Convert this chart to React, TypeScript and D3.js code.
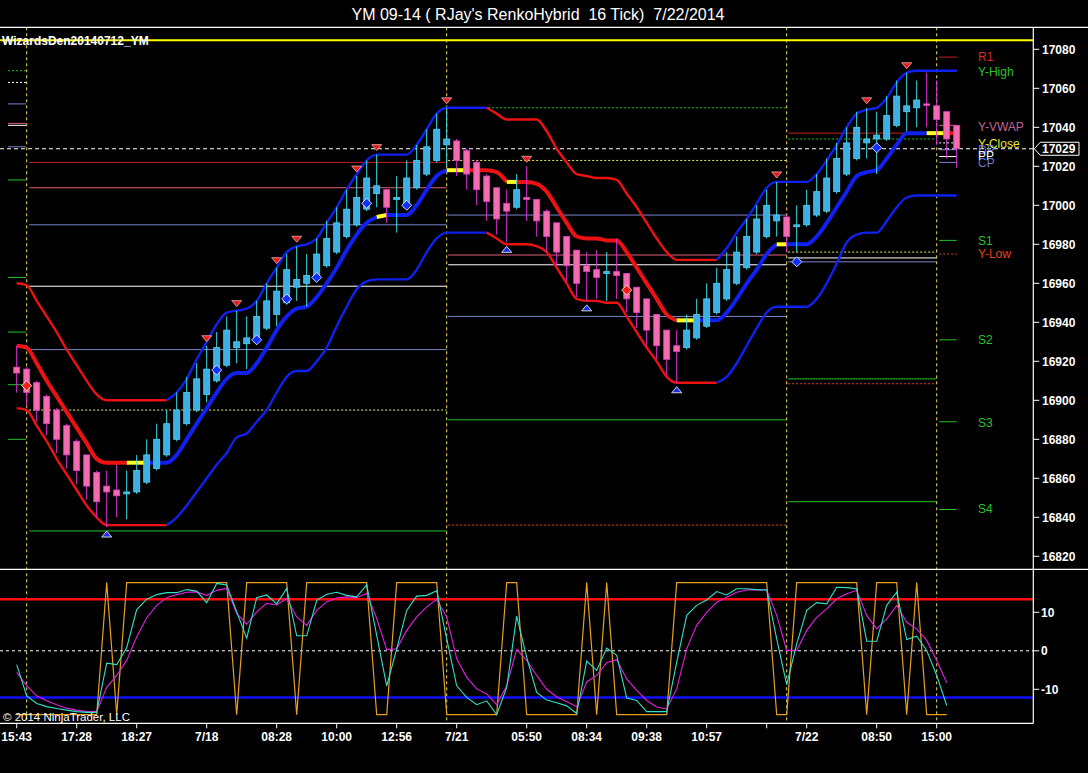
import * as d3 from "d3";

// ── Renko bars (index 0 = 15:43 on 7/17) ──────────────────────
const OPEN = [
  16917, 16916, 16909, 16902, 16895, 16887, 16879, 16872, 16863, 16856,
  16854, 16852, 16853, 16858, 16865, 16872, 16880, 16888, 16895, 16903,
  16910, 16918, 16927, 16929, 16931, 16937, 16944, 16950, 16958, 16960,
  16963, 16969, 16976, 16984, 16990, 16998, 17006, 17008, 17003, 16999,
  17009, 17016, 17023, 17031, 17033, 17028, 17022, 17015, 17009, 17001,
  16999, 17004, 17003, 16997, 16991, 16984, 16977, 16969, 16967, 16965,
  16966, 16965, 16958, 16952, 16944, 16936, 16928, 16927, 16932, 16938,
  16945, 16952, 16960, 16968, 16976, 16984, 16992, 16994, 16989, 16990,
  16995, 16997, 17007, 17016, 17024, 17032, 17034, 17034, 17041, 17048,
  17050, 17052, 17051, 17048, 17041,
];
const HIGH = [
  16928, 16917, 16910, 16903, 16896, 16888, 16880, 16872, 16864, 16864,
  16867, 16864, 16872, 16880, 16888, 16895, 16904, 16912, 16919, 16928,
  16935, 16943, 16946, 16943, 16951, 16960, 16968, 16975, 16979, 16975,
  16983, 16992, 16999, 17008, 17015, 17023, 17026, 17008, 17015, 17023,
  17031, 17039, 17047, 17050, 17034, 17029, 17023, 17016, 17009, 17008,
  17016, 17020, 17003, 16998, 16991, 16984, 16977, 16976, 16977, 16976,
  16983, 16965, 16958, 16952, 16944, 16936, 16936, 16944, 16952, 16960,
  16968, 16976, 16984, 16993, 17000, 17008, 17012, 16995, 17000, 17008,
  17016, 17024, 17032, 17040, 17048, 17050, 17048, 17056, 17064, 17068,
  17064, 17068, 17064, 17048, 17041,
];
const LOW = [
  16904, 16897, 16889, 16882, 16873, 16865, 16857, 16849, 16840, 16835,
  16840, 16839, 16852, 16857, 16864, 16871, 16879, 16887, 16894, 16899,
  16909, 16917, 16919, 16916, 16930, 16936, 16938, 16949, 16951, 16948,
  16962, 16968, 16975, 16983, 16989, 16997, 16999, 16991, 16986, 16998,
  17008, 17015, 17022, 17020, 17015, 17008, 17000, 16992, 16985, 16981,
  16998, 16992, 16984, 16976, 16969, 16961, 16953, 16951, 16952, 16951,
  16952, 16945, 16937, 16928, 16921, 16913, 16909, 16926, 16931, 16937,
  16944, 16951, 16959, 16967, 16975, 16983, 16984, 16976, 16976, 16989,
  16994, 16996, 17006, 17015, 17023, 17024, 17016, 17033, 17040, 17038,
  17040, 17040, 17031, 17024, 17019,
];
const CLOSE = [
  16914, 16904, 16895, 16888, 16880, 16872, 16864, 16856, 16848, 16853,
  16851, 16853, 16864, 16872, 16880, 16888, 16895, 16904, 16911, 16916,
  16927, 16936, 16930, 16932, 16943, 16951, 16956, 16967, 16962, 16964,
  16975, 16983, 16991, 16998, 17004, 17014, 17010, 16999, 17004, 17014,
  17023, 17030, 17039, 17034, 17023, 17016, 17008, 17002, 16993, 16997,
  17008, 17003, 16992, 16984, 16976, 16969, 16960, 16966, 16963, 16966,
  16964, 16952, 16945, 16936, 16928, 16921, 16925, 16936, 16944, 16952,
  16960, 16967, 16976, 16984, 16993, 17000, 16995, 16984, 16990, 17000,
  17007, 17014, 17024, 17032, 17040, 17034, 17036, 17046, 17056, 17051,
  17054, 17051.5, 17044, 17034, 17029,
];

// ── Trend band: upper / middle / lower ────────────────────────
const BAND_UPPER = [
  16960, 16959, 16951, 16943, 16935, 16926, 16918, 16910, 16903, 16900,
  16900, 16900, 16900, 16900, 16900, 16900, 16904, 16911, 16921, 16930,
  16939, 16945, 16946, 16947, 16951, 16960, 16968, 16976, 16979, 16980,
  16983, 16991, 16999, 17008, 17016, 17023, 17026, 17026, 17026, 17026,
  17031, 17039, 17047, 17050, 17050, 17050, 17050, 17050, 17047, 17044,
  17044, 17044, 17044, 17038, 17029, 17022, 17016, 17015, 17014, 17014,
  17013, 17006, 16999, 16991, 16983, 16976, 16972, 16972, 16972, 16972,
  16972, 16978, 16986, 16993, 17001, 17009, 17012, 17012, 17012, 17012,
  17016, 17023, 17031, 17040, 17047, 17049, 17050, 17055, 17063, 17068,
  17069, 17069, 17069, 17069, 17069,
];
const BAND_MID = [
  16928, 16927, 16919, 16910, 16902, 16894, 16886, 16878, 16870, 16868,
  16868, 16868, 16868, 16868, 16868, 16868, 16872, 16880, 16888, 16896,
  16904, 16911, 16914, 16914, 16919, 16927, 16936, 16943, 16947, 16948,
  16953, 16960, 16968, 16977, 16985, 16991, 16994, 16995, 16995, 16995,
  17000, 17008, 17015, 17018, 17018, 17018, 17018, 17018, 17017, 17012,
  17012, 17012, 17011, 17007, 16999, 16991, 16984, 16983, 16983, 16982,
  16982, 16976, 16968, 16960, 16952, 16944, 16941, 16941, 16941, 16941,
  16941, 16945, 16952, 16960, 16967, 16975, 16980, 16980, 16980, 16980,
  16984, 16991, 16999, 17007, 17015, 17017, 17018, 17024, 17031, 17037,
  17037, 17037, 17037, 17037, 17037,
];
const BAND_LOWER = [
  16896, 16895, 16887, 16879, 16870, 16862, 16854, 16846, 16840, 16836,
  16836, 16836, 16836, 16836, 16836, 16836, 16840, 16846, 16853, 16860,
  16867, 16873, 16881, 16883, 16889, 16895, 16904, 16912, 16915, 16915,
  16920, 16927, 16938, 16948, 16957, 16961, 16962, 16962, 16962, 16962,
  16967, 16976, 16983, 16986, 16986, 16986, 16986, 16986, 16983, 16980,
  16980, 16980, 16979, 16976, 16968, 16960, 16952, 16951, 16951, 16950,
  16950, 16943, 16935, 16927, 16920, 16912, 16909, 16909, 16909, 16909,
  16909, 16912, 16919, 16928, 16937, 16945, 16948, 16948, 16948, 16948,
  16952, 16960, 16970, 16981, 16985, 16986, 16986, 16992, 16999, 17004,
  17005, 17005, 17005, 17005, 17005,
];
// [fromBar, toBar, state]
const THIN_RUNS: [number, number, string][] = [
  [0, 15, "down"], [15, 47, "up"], [47, 70, "down"], [70, 94, "up"],
];
const THICK_RUNS: [number, number, string][] = [
  [0, 11, "down"], [11, 13, "flip"], [13, 36, "up"], [36, 37, "flip"],
  [37, 43, "up"], [43, 45, "flip"], [45, 49, "down"], [49, 50, "flip"],
  [50, 66, "down"], [66, 68, "flip"], [68, 76, "up"], [76, 77, "flip"],
  [77, 91, "up"], [91, 93, "flip"], [93, 94, "down"],
];

// ── Signal markers ────────────────────────────────────────────
const SELL_TRIANGLE_BARS = [19, 22, 26, 28, 34, 36, 43, 51, 76, 85, 89];
const BUY_TRIANGLE_BARS = [9, 49, 57, 66];
const BLUE_DIAMOND_BARS = [20, 24, 27, 30, 35, 39, 78, 86];
const BLUE_DIAMOND_PRICES = [16915.5, 16931, 16952, 16963, 17001, 17000, 16971, 17029.5];
const RED_DIAMOND_BARS = [1, 61];
const RED_DIAMOND_PRICES = [16907.5, 16956.5];

// ── Lower panel oscillator (one value per closed bar) ─────────
const SIGNAL = [
  -16.6, -16.6, -16.6, -16.6, -16.6, -16.6, -16.6, -16.6, -16.6, 17.7,
  -16.6, 17.7, 17.7, 17.7, 17.7, 17.7, 17.7, 17.7, 17.7, 17.7,
  17.7, 17.7, -16.6, 17.7, 17.7, 17.7, 17.7, 17.7, -16.6, 17.7,
  17.7, 17.7, 17.7, 17.7, 17.7, 17.7, -16.6, -16.6, 17.7, 17.7,
  17.7, 17.7, 17.7, -16.6, -16.6, -16.6, -16.6, -16.6, -16.6, 17.7,
  17.7, -16.6, -16.6, -16.6, -16.6, -16.6, -16.6, 17.7, -16.6, 17.7,
  -16.6, -16.6, -16.6, -16.6, -16.6, -16.6, 17.7, 17.7, 17.7, 17.7,
  17.7, 17.7, 17.7, 17.7, 17.7, 17.7, -16.6, -16.6, 17.7, 17.7,
  17.7, 17.7, 17.7, 17.7, 17.7, -16.6, 17.7, 17.7, 17.7, -16.6,
  17.7, -16.6, -16.6, -16.6,
];
const FAST = [
  -3.6, -11.7, -13.7, -14.5, -15.0, -15.4, -15.8, -16.0, -16.0, -3.2,
  -3.6, 0.8, 10.7, 13.4, 14.6, 15.1, 15.1, 15.9, 15.5, 12.5,
  17.5, 17.1, 10.1, 3.3, 13.8, 14.5, 12.2, 16.2, 3.9, 3.9,
  13.1, 14.7, 15.2, 14.4, 14.0, 17.1, 4.0, -9.1, 0.5, 10.5,
  14.2, 14.4, 15.6, 3.1, -9.1, -12.1, -14.0, -13.0, -16.6, -9.5,
  9.0, -1.7, -10.8, -12.8, -13.5, -14.3, -16.3, -2.7, -5.1, 0.7,
  -1.2, -12.3, -12.9, -15.8, -15.8, -15.8, -3.0, 9.2, 11.8, 13.2,
  15.4, 14.5, 16.1, 16.1, 15.9, 15.8, 3.1, -8.8, 1.8, 10.5,
  12.5, 12.2, 16.5, 16.4, 16.1, 2.5, 2.5, 11.8, 15.2, 2.9,
  3.8, 0.1, -6.4, -14.2,
];
const SLOW = [
  -5.6, -9.1, -11.7, -13.0, -14.0, -14.9, -15.4, -15.8, -15.8, -9.5,
  -6.4, -2.5, 3.6, 8.6, 11.8, 13.8, 14.6, 15.2, 15.3, 14.4,
  15.7, 16.2, 9.7, 6.9, 10.1, 12.3, 11.9, 13.6, 8.8, 6.6,
  10.5, 12.7, 13.7, 14.0, 13.8, 14.9, 8.4, 0.3, 0.5, 5.3,
  8.8, 11.4, 13.3, 8.8, -2.1, -6.9, -9.9, -11.2, -14.0, -9.1,
  0.3, -2.5, -6.4, -10.0, -12.0, -13.2, -14.5, -8.1, -6.4, -3.1,
  -2.3, -7.3, -10.3, -12.9, -14.6, -15.1, -9.9, 0.5, 6.6, 10.0,
  12.6, 13.9, 15.2, 15.8, 15.9, 15.8, 9.2, 0.1, 0.1, 5.3,
  8.7, 10.9, 13.5, 14.8, 15.7, 9.2, 5.7, 8.3, 11.8, 7.4,
  5.7, 2.7, -2.5, -8.3,
];
const OVERBOUGHT = 13.4;
const OVERSOLD = -12.1;

// ── Sessions and pivot levels ─────────────────────────────────
const SESSION_BREAK_BARS = [1, 43, 77, 92];
// bar span of each block of level lines
const LEVEL_SPANS: [number, number][] = [[-0.87, 0.93], [1.25, 43], [43.15, 77], [77.15, 92], [92.25, 94]];
const LEVELS_0717: [number, string][] = [
  [17069, "high"], [17063, "wdot"], [17052, "bg"], [17042, "vwap"], [17041, "pp"],
  [17030, "bg"], [17013, "s"], [16963, "s"], [16935, "s"], [16908, "s"], [16880, "s"],
];
const LEVELS_0718: [number, string][] = [
  [17022, "r1"], [17009, "vwap"], [16990, "bg"], [16958.5, "pp"], [16926, "bg"],
  [16895, "close"], [16833, "s"],
];
const LEVELS_0721: [number, string][] = [
  [17050, "high"], [17023, "close"], [16995, "bg"], [16974.5, "vwap"], [16969.5, "pp"],
  [16943, "bg"], [16890, "s"], [16836, "low"],
];
const LEVELS_0722: [number, string][] = [
  [17037, "r1"], [17034, "high"], [16976, "close"], [16973, "pp"], [16971, "bg"],
  [16911, "s"], [16908.5, "low"], [16848, "s"],
];
const LEVELS_0723: [number, string][] = [
  [17076, "r1"], [17069, "high"], [17041, "vwap"], [17032, "wdot"], [17028.5, "bg"],
  [17025, "pp"], [17022, "bg"], [16982, "s"], [16975, "low"], [16931, "s"],
  [16889, "s"], [16844, "s"],
];
const LEVEL_NAMES = ["R1", "Y-High", "Y-VWAP", "Y-Close", "DP", "PP", "CP", "S1", "Y-Low", "S2", "S3", "S4"];
const LEVEL_NAME_PRICES = [17076, 17068.5, 17040.3, 17031.4, 17028.4, 17025.3, 17021.9, 16981.8, 16975, 16931, 16888.4, 16844.3];
const LEVEL_NAME_KINDS = ["r1", "s", "vwap", "close", "bg", "pp", "bg", "s", "low", "s", "s", "s"];

const SESSION_HIGH_LINE = 17084.6;
const LAST_PRICE = 17029;

// ── Axes ──────────────────────────────────────────────────────
const PRICE_TICKS = [17080, 17060, 17040, 17020, 17000, 16980, 16960, 16940, 16920, 16900, 16880, 16860, 16840, 16820];
const OSC_TICKS = [10, 0, -10];
const TIME_TICK_BARS = [0, 6, 12, 19, 26, 32, 38, 44, 51, 57, 63, 69, 75, 79, 86, 92];
const TIME_TICK_LABELS = ["15:43", "17:28", "18:27", "7/18", "08:28", "10:00", "12:56", "7/21", "05:50", "08:34", "09:38", "10:57", "", "7/22", "08:50", "15:00"];

// ── Styling ───────────────────────────────────────────────────
const FONT = "Arial, 'Liberation Sans', Helvetica, sans-serif";
const LEVEL_STYLE: Record<string, { stroke: string; dash?: string; label?: string }> = {
  r1: { stroke: "#c42020", label: "#d42a2a" },
  vwap: { stroke: "#e0607a", label: "#c0649c" },
  bg: { stroke: "#7b86cc", label: "#6a7ed0" },
  pp: { stroke: "#ffffff", label: "#ffffff" },
  close: { stroke: "#f0f070", dash: "2,2", label: "#e8e830" },
  wdot: { stroke: "#ffffff", dash: "2,2" },
  s: { stroke: "#22c422", label: "#2ec02e" },
  high: { stroke: "#22c422", dash: "2,2" },
  low: { stroke: "#e04a2a", dash: "2,2", label: "#e8401c" },
};
const TREND_COLOR: Record<string, string> = { down: "#ee1111", up: "#1020ee", flip: "#ffff22" };

export default function App() {
  const W = 1088;
  const H = 773;
  const AXIS_X = 1033.3;
  const TOP = 27.3;
  const SPLIT = 569.3;
  const BOTTOM = 723.3;

  const x = d3.scaleLinear().domain([0, OPEN.length - 1]).range([16.7, 956.7]);
  const y = d3.scaleLinear().domain([16820, 17080]).range([556.3, 49.3]);
  const yi = d3.scaleLinear().domain([-10, 10]).range([689.3, 612.3]);

  const bandPath = (vals: number[], a: number, b: number) =>
    d3.line<number>()
      .x((i) => x(i))
      .y((i) => y(vals[i]))
      .curve(d3.curveMonotoneX)(d3.range(a, b + 1)) ?? "";

  const oscPath = (vals: number[]) =>
    d3.line<number>().x((_d, i) => x(i)).y((d) => yi(d))(vals) ?? "";

  const levelBlocks = [LEVELS_0717, LEVELS_0718, LEVELS_0721, LEVELS_0722, LEVELS_0723];

  const diamond = (cx: number, cy: number, r: number) =>
    `M${cx},${cy - r}L${cx + r},${cy}L${cx},${cy + r}L${cx - r},${cy}Z`;

  return (
    <svg
      width={W}
      height={H}
      style={{ position: "absolute", left: 0, top: 0, display: "block", background: "#000" }}
      fontFamily={FONT}
    >
      <rect width={W} height={H} fill="#000" />

      {/* title */}
      <text x={538} y={20} fill="#fff" fontSize={16} textAnchor="middle" style={{ whiteSpace: "pre" }}>
        {"YM 09-14 ( RJay's RenkoHybrid  16 Tick)  7/22/2014"}
      </text>

      {/* pivot level lines per session */}
      {levelBlocks.map((block, bi) =>
        block.map(([p, kind], li) => {
          const st = LEVEL_STYLE[kind];
          return (
            <line
              key={`lv${bi}-${li}`}
              x1={x(LEVEL_SPANS[bi][0])}
              x2={x(LEVEL_SPANS[bi][1])}
              y1={y(p)}
              y2={y(p)}
              stroke={st.stroke}
              strokeWidth={1}
              strokeDasharray={st.dash}
            />
          );
        })
      )}

      {/* session breaks */}
      {SESSION_BREAK_BARS.map((b) => (
        <line key={`sb${b}`} x1={x(b)} x2={x(b)} y1={TOP} y2={BOTTOM} stroke="#f0e060" strokeWidth={1} strokeDasharray="3,3" />
      ))}

      {/* last price and top line */}
      <line x1={0} x2={AXIS_X} y1={y(LAST_PRICE)} y2={y(LAST_PRICE)} stroke="#fff" strokeWidth={1} strokeDasharray="4,3" />
      <line x1={0} x2={AXIS_X} y1={y(SESSION_HIGH_LINE)} y2={y(SESSION_HIGH_LINE)} stroke="#ffff00" strokeWidth={2} />

      {/* trend band */}
      {THIN_RUNS.map(([a, b, s], k) => (
        <g key={`thin${k}`} fill="none" stroke={TREND_COLOR[s]} strokeWidth={2.4}>
          <path d={bandPath(BAND_UPPER, a, b)} />
          <path d={bandPath(BAND_LOWER, a, b)} />
        </g>
      ))}
      {THICK_RUNS.map(([a, b, s], k) => (
        <path key={`mid${k}`} d={bandPath(BAND_MID, a, b)} fill="none" stroke={TREND_COLOR[s]} strokeWidth={4} />
      ))}

      {/* candles */}
      {OPEN.map((o, i) => {
        const c = CLOSE[i];
        const up = c > o;
        const cx = x(i);
        const top = y(Math.max(o, c));
        const bot = y(Math.min(o, c));
        const h = Math.max(1.5, bot - top);
        return (
          <g key={`c${i}`}>
            <line x1={cx} x2={cx} y1={y(HIGH[i])} y2={y(LOW[i])} stroke={up ? "#3ee0e6" : "#e030dc"} strokeWidth={1} />
            <rect
              x={cx - 3}
              y={top}
              width={6}
              height={h}
              fill={up ? "#3cb0e2" : "#f46cb0"}
              stroke={up ? "#52d2ee" : "#e03ec6"}
              strokeWidth={0.8}
            />
          </g>
        );
      })}

      {/* markers */}
      {SELL_TRIANGLE_BARS.map((b) => {
        const cx = x(b);
        const t = y(HIGH[b]);
        return <path key={`st${b}`} d={`M${cx - 5},${t - 10}L${cx + 5},${t - 10}L${cx},${t - 4}Z`} fill="#e01e1e" stroke="#ffc0c0" strokeWidth={0.7} />;
      })}
      {BUY_TRIANGLE_BARS.map((b) => {
        const cx = x(b);
        const t = y(LOW[b]);
        return <path key={`bt${b}`} d={`M${cx - 5},${t + 10}L${cx + 5},${t + 10}L${cx},${t + 4}Z`} fill="#1a2ee6" stroke="#ffffff" strokeWidth={0.8} />;
      })}
      {BLUE_DIAMOND_BARS.map((b, k) => (
        <path key={`bd${b}`} d={diamond(x(b), y(BLUE_DIAMOND_PRICES[k]), 5)} fill="#1030ff" stroke="#ffffff" strokeWidth={0.8} />
      ))}
      {RED_DIAMOND_BARS.map((b, k) => (
        <path key={`rd${b}`} d={diamond(x(b), y(RED_DIAMOND_PRICES[k]), 5)} fill="#ff1a1a" stroke="#ffffff" strokeWidth={0.8} />
      ))}

      {/* level names on the right */}
      {LEVEL_NAMES.map((name, k) => (
        <text
          key={`ln${k}`}
          x={978}
          y={y(LEVEL_NAME_PRICES[k]) + 4}
          fill={LEVEL_STYLE[LEVEL_NAME_KINDS[k]].label}
          fontSize={12}
        >
          {name}
        </text>
      ))}

      <text x={2} y={45} fill="#fff" fontSize={12} fontWeight="bold">WizardsDen20140712_YM</text>

      {/* ── oscillator panel ── */}
      <line x1={0} x2={AXIS_X} y1={yi(0)} y2={yi(0)} stroke="#fff" strokeWidth={1} strokeDasharray="3,3" />
      <line x1={0} x2={AXIS_X} y1={yi(OVERBOUGHT)} y2={yi(OVERBOUGHT)} stroke="#ff1010" strokeWidth={2.5} />
      <line x1={0} x2={AXIS_X} y1={yi(OVERSOLD)} y2={yi(OVERSOLD)} stroke="#1010ff" strokeWidth={2.5} />
      <path d={oscPath(SIGNAL)} fill="none" stroke="#e8a020" strokeWidth={1.2} />
      <path d={oscPath(SLOW)} fill="none" stroke="#e020e0" strokeWidth={1.1} />
      <path d={oscPath(FAST)} fill="none" stroke="#30e0c8" strokeWidth={1.1} />
      <text x={3} y={721} fill="#fff" fontSize={11.5}>© 2014 NinjaTrader, LLC</text>

      {/* frames */}
      <line x1={0} x2={W} y1={TOP} y2={TOP} stroke="#fff" strokeWidth={1.2} />
      <line x1={0} x2={W} y1={SPLIT} y2={SPLIT} stroke="#fff" strokeWidth={1.2} />
      <line x1={0} x2={AXIS_X} y1={BOTTOM} y2={BOTTOM} stroke="#fff" strokeWidth={1.2} />
      <line x1={AXIS_X} x2={AXIS_X} y1={TOP} y2={BOTTOM} stroke="#fff" strokeWidth={1.2} />

      {/* price axis */}
      {PRICE_TICKS.map((p) => (
        <g key={`pt${p}`}>
          <line x1={AXIS_X} x2={AXIS_X + 6} y1={y(p)} y2={y(p)} stroke="#fff" />
          <text x={1042} y={y(p) + 4.5} fill="#fff" fontSize={12} fontWeight="bold">{p}</text>
        </g>
      ))}
      {(() => {
        const py = y(LAST_PRICE);
        return (
          <g>
            <path
              d={`M${AXIS_X + 1},${py}L${AXIS_X + 7},${py - 6.5}L1079,${py - 6.5}L1079,${py + 6.5}L${AXIS_X + 7},${py + 6.5}Z`}
              fill="#000"
              stroke="#fff"
              strokeWidth={1}
            />
            <text x={1042} y={py + 4.5} fill="#fff" fontSize={12} fontWeight="bold">{LAST_PRICE}</text>
          </g>
        );
      })()}

      {/* oscillator axis */}
      {OSC_TICKS.map((v) => (
        <g key={`ot${v}`}>
          <line x1={AXIS_X} x2={AXIS_X + 6} y1={yi(v)} y2={yi(v)} stroke="#fff" />
          <text x={1041} y={yi(v) + 4.5} fill="#fff" fontSize={12} fontWeight="bold">{v}</text>
        </g>
      ))}

      {/* time axis */}
      {TIME_TICK_BARS.map((b, k) => (
        <g key={`tt${b}`}>
          <line x1={x(b)} x2={x(b)} y1={BOTTOM} y2={BOTTOM + 5} stroke="#fff" />
          <text x={x(b)} y={741} fill="#fff" fontSize={12} fontWeight="bold" textAnchor="middle">
            {TIME_TICK_LABELS[k]}
          </text>
        </g>
      ))}
    </svg>
  );
}
